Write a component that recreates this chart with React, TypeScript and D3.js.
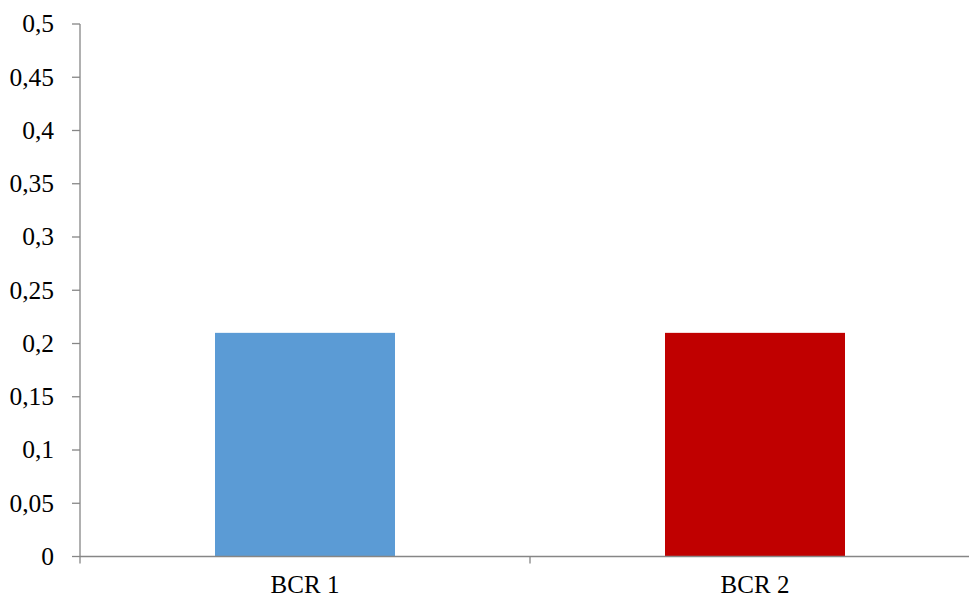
import React from "react";
import * as d3 from "d3";

const categories = ["BCR 1", "BCR 2"];
const values = [0.21, 0.21];
const colors = ["#5B9BD5", "#C00000"];
const yTicks = [0, 0.05, 0.1, 0.15, 0.2, 0.25, 0.3, 0.35, 0.4, 0.45, 0.5];

export default function App() {
  const W = 969, H = 598;
  const left = 80, right = 980, top = 24, bottom = 556.5;
  const x = d3.scaleBand<string>().domain(categories).range([left, right]).paddingInner(0).paddingOuter(0);
  const y = d3.scaleLinear().domain([0, 0.5]).range([bottom, top]);
  const bw = x.bandwidth() * 0.4;
  const fmt = (v: number) => String(+v.toFixed(2)).replace(".", ",");
  const axisColor = "#868686";
  return (
    <svg width={W} height={H} style={{ position: "absolute", left: 0, top: 0, background: "#fff" }}
      fontFamily="'Liberation Serif', 'Times New Roman', serif">
      {categories.map((c, i) => (
        <rect key={c} x={x(c)! + (x.bandwidth() - bw) / 2} y={y(values[i])} width={bw}
          height={y(0) - y(values[i])} fill={colors[i]} />
      ))}
      <line x1={left} x2={left} y1={top} y2={bottom + 7} stroke={axisColor} strokeWidth={1.3} />
      <line x1={left} x2={right} y1={bottom} y2={bottom} stroke={axisColor} strokeWidth={1.3} />
      {yTicks.map((t) => (
        <g key={t}>
          <line x1={left - 8} x2={left} y1={y(t)} y2={y(t)} stroke={axisColor} strokeWidth={1.3} />
          <text x={54} y={y(t)} dy="0.33em" textAnchor="end" fontSize={25.5} fill="#000">{fmt(t)}</text>
        </g>
      ))}
      {categories.map((c, i) => (
        <line key={"t" + i} x1={x(c)! + x.bandwidth()} x2={x(c)! + x.bandwidth()} y1={bottom} y2={bottom + 7}
          stroke={axisColor} strokeWidth={1.3} />
      ))}
      {categories.map((c) => (
        <text key={"l" + c} x={x(c)! + x.bandwidth() / 2} y={593} textAnchor="middle" fontSize={25} fill="#000">{c}</text>
      ))}
    </svg>
  );
}
